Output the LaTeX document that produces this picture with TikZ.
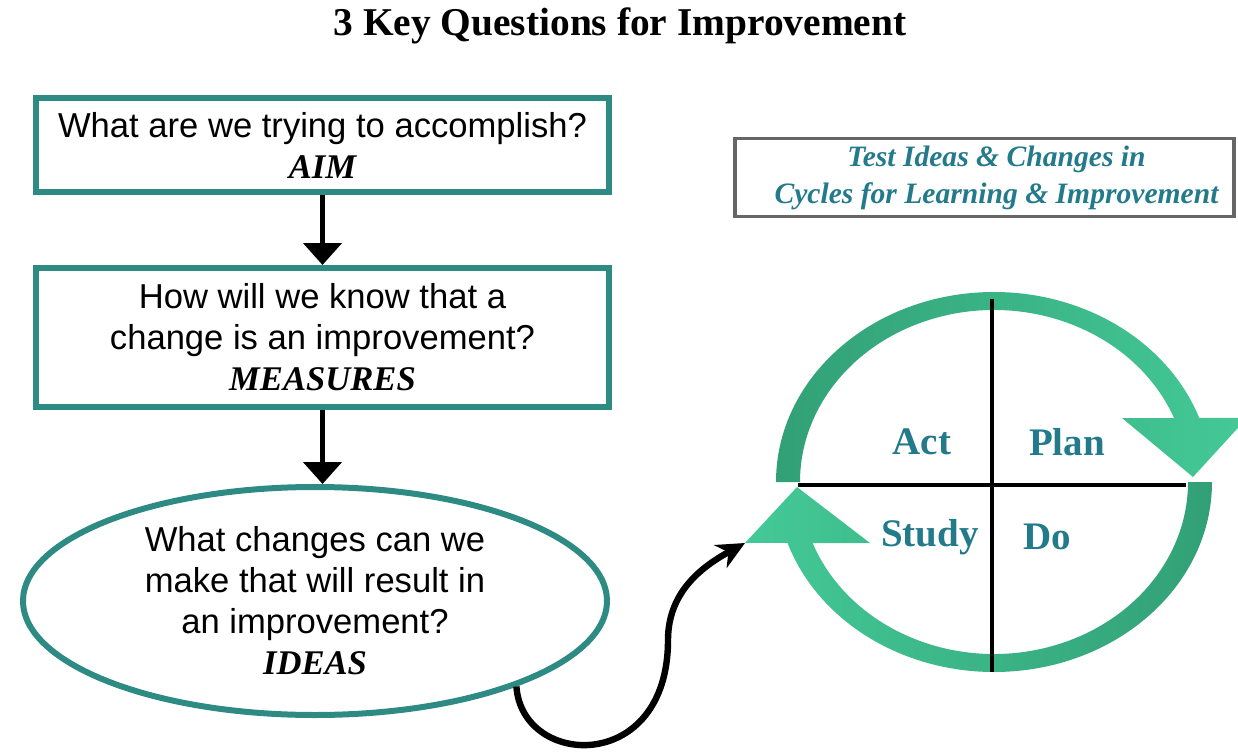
\documentclass[tikz,border=0pt]{standalone}
\usepackage{fontspec}
\setmainfont{Liberation Serif}
\setsansfont{Liberation Sans}
\usepackage{tikz}
\usetikzlibrary{arrows.meta}
\usetikzlibrary{positioning}
\usetikzlibrary{calc}
\usetikzlibrary{shapes, shapes.geometric}

\definecolor{boxteal}{RGB}{46,139,132}
\definecolor{pdsatext}{RGB}{34,122,138}
\definecolor{ringlight}{RGB}{68,201,151}
\definecolor{ringdark}{RGB}{50,160,118}

\newcommand{\keyword}[1]{{\rmfamily\bfseries\itshape #1}}

\begin{document}
\begin{tikzpicture}[x=0.5pt, y=0.5pt,
        question/.style={draw=boxteal, line width=3pt, minimum width=286.5pt, align=center,
            font=\sffamily\fontsize{17.3}{20.5}\selectfont},
        downarrow/.style={-{Triangle[width=19pt,length=11pt]}, line width=2.4pt},
        phase/.style={text=pdsatext, font=\rmfamily\bfseries\fontsize{19.5}{22}\selectfont}]
        \useasboundingbox (0,0) rectangle (1238,-755);

        \node[font=\rmfamily\bfseries\fontsize{19.7}{23}\selectfont] (title) at (620,-26) {3 Key Questions for Improvement};

        % The three questions
        \node[question, minimum height=47pt] (aim) at (322.5,-145)
            {What are we trying to accomplish?\\ \keyword{AIM}};
        \node[question, minimum height=69.5pt] (measures) at (322.5,-337.5)
            {How will we know that a\\ change is an improvement?\\ \keyword{MEASURES}};
        \node[question, ellipse, inner sep=0pt, minimum width=292pt, minimum height=114pt] (ideas) at (315,-601)
            {What changes can we\\ make that will result in\\ an improvement?\\ \keyword{IDEAS}};

        \draw[downarrow] (aim) -- (measures);
        \draw[downarrow] (measures.south) -- (measures.south |- ideas.north);

        % Test box
        \node[draw=black!60, line width=1.6pt, minimum width=249.5pt, minimum height=38.5pt, align=center,
            text=pdsatext, font=\rmfamily\bfseries\itshape\fontsize{14.8}{18.5}\selectfont] (testbox) at (984.5,-177.5)
            {\hspace*{12pt}Test Ideas \& Changes in\\ \hspace*{12pt}Cycles for Learning \& Improvement};

        % PDSA cycle
        \coordinate (c) at (994,-482);
        \shade[left color=ringdark, right color=ringlight]
            (c) ++(180:218 and 190) arc[start angle=180, end angle=19.7, x radius=218, y radius=190]
            -- (1247,-418) -- (1193,-477) -- (1122,-418)
            -- ($(c)+(21.8:194 and 172)$) arc[start angle=21.8, end angle=180, x radius=194, y radius=172] -- cycle;
        \shade[left color=ringlight, right color=ringdark]
            (c) ++(0:218 and 190) arc[start angle=0, end angle=-161.3, x radius=218, y radius=190]
            -- (745,-543) -- (797,-487) -- (870,-543)
            -- ($(c)+(-159.2:194 and 172)$) arc[start angle=-159.2, end angle=0, x radius=194, y radius=172] -- cycle;

        \draw[line width=2.4pt] (798,-485) -- (1186,-485);
        \draw[line width=2.4pt] (992,-299) -- (992,-672);

        \node[phase] (act) at (922,-442) {Act};
        \node[phase] (plan) at (1067,-442) {Plan};
        \node[phase] (study) at (930,-537) {Study};
        \node[phase] (do) at (1047,-537) {Do};

        % Ideas feed the cycle
        \coordinate (cyclein) at (745,-543);
        \draw[line width=3.2pt, -{Stealth[length=14pt,width=13pt]}] (ideas.-23)
            .. controls (522,-768) and (668,-775) .. (668,-640)
            .. controls (668,-590) and (705,-565) .. (cyclein);
    \end{tikzpicture}
\end{document}
